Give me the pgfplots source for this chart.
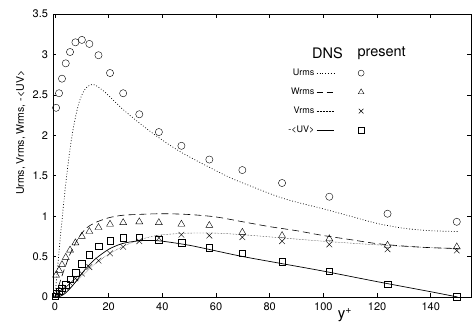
\documentclass[border=0pt]{standalone}
\usepackage{fontspec}
\setmainfont{TeX Gyre Heros}
\usepackage{pgfplots}
\pgfplotsset{compat=1.18}
\newcommand{\lf}{\fontsize{9}{10}\selectfont}
\begin{document}
\begin{tikzpicture}
\useasboundingbox (-53pt,-30pt) rectangle (422pt,297pt);
\begin{axis}[
  scale only axis, width=418pt, height=283pt,
  xmin=-0.75, xmax=155, ymin=0, ymax=3.5,
  xtick={0,20,...,140}, ytick={0,0.5,...,3.5},
  tick align=inside, major tick length=3.5pt,
  axis line style={line width=0.6pt}, tick style={black, line width=0.5pt},
  tick label style={font=\fontsize{11}{12}\selectfont},
  /pgf/number format/assume math mode=true,
  xticklabel style={yshift=-2.5pt},
  yticklabel style={xshift=-1.5pt},
  clip=false,
  every mark/.append style={line width=0.75pt, solid},
  xlabel={y\textsuperscript{+}},
  every axis x label/.style={at={(axis cs:108,0)}, anchor=north, yshift=-8pt, font=\fontsize{15}{16}\selectfont},
  ylabel={Urms, Vrms, Wrms, -<UV>},
  every axis y label/.style={at={(axis description cs:-0.077,0.58)}, rotate=90, anchor=center, font=\fontsize{10.5}{11}\selectfont},
  legend columns=2, legend plot pos=right, legend cell align=right,
  legend style={at={(axis cs:86.5,2.83)}, anchor=north west, draw=none, fill=none,
    inner sep=0pt, row sep=9.5pt,
    nodes={inner sep=1pt, text height=6.5pt, text depth=1pt},
    /tikz/every odd column/.append style={column sep=1pt},
    /tikz/every even column/.append style={column sep=21pt}},
]
% DNS Urms
\addplot[black, line width=0.7pt, dash pattern=on 0.8pt off 2pt, smooth, forget plot] coordinates {
(0,0) (1,0.37) (2,0.74) (3,1.08) (4,1.40) (5,1.68) (6,1.92) (7,2.12) (8,2.28) (9,2.41) (10,2.50) (11,2.56) (12,2.60) (13,2.62) (14,2.63) (15,2.62) (16,2.60) (18,2.55) (20,2.49) (25,2.33) (30,2.19) (35,2.06) (40,1.94) (47,1.79) (56,1.63) (65,1.48) (70,1.41) (85,1.22) (100,1.09) (110,1.00) (120,0.91) (130,0.85) (140,0.82) (150,0.81)};
% DNS Wrms
\addplot[black, line width=0.6pt, dash pattern=on 7pt off 4pt, smooth, forget plot] coordinates {
(0,0) (1,0.10) (2,0.20) (3,0.30) (4,0.39) (5,0.48) (6,0.56) (8,0.69) (10,0.79) (12,0.86) (15,0.92) (20,0.98) (25,1.01) (30,1.02) (40,1.03) (50,1.02) (60,0.99) (70,0.93) (80,0.87) (90,0.82) (100,0.76) (110,0.71) (120,0.66) (130,0.63) (140,0.61) (150,0.60)};
% DNS Vrms
\addplot[black, line width=0.4pt, dash pattern=on 0.5pt off 1pt, smooth, forget plot] coordinates {
(0,0) (2,0.02) (4,0.06) (6,0.12) (8,0.19) (10,0.26) (12,0.32) (15,0.41) (20,0.53) (25,0.62) (30,0.69) (35,0.74) (40,0.77) (50,0.79) (60,0.79) (70,0.77) (85,0.73) (100,0.69) (120,0.645) (140,0.61) (150,0.60)};
% DNS -uv
\addplot[black, line width=0.7pt, smooth, forget plot] coordinates {
(0,0) (2,0.01) (4,0.05) (6,0.12) (8,0.20) (10,0.29) (12,0.37) (15,0.47) (20,0.59) (25,0.66) (30,0.69) (35,0.70) (40,0.69) (50,0.64) (60,0.57) (70,0.50) (85,0.41) (100,0.32) (120,0.19) (140,0.065) (150,0)};
% present
\addplot[black, only marks, mark=o, mark size=3.6pt, forget plot] coordinates {
(0.4,2.34) (1.5,2.52) (2.6,2.70) (4.0,2.89) (5.6,3.03) (7.6,3.15) (10,3.18) (12.8,3.13) (16.2,2.99) (20.5,2.77) (25.4,2.52) (31.4,2.26) (38.7,2.04) (47.1,1.87) (57.5,1.70) (69.8,1.57) (84.6,1.41) (102.2,1.24) (123.9,1.03) (149.7,0.93)};
\addplot[black, only marks, mark=triangle, mark size=4pt, forget plot] coordinates {
(0.4,0.27) (1.5,0.33) (2.6,0.40) (4.0,0.49) (5.6,0.58) (7.6,0.67) (10,0.75) (12.8,0.81) (16.2,0.86) (20.5,0.90) (25.4,0.92) (31.4,0.93) (38.7,0.92) (47.1,0.90) (57.5,0.885) (69.8,0.80) (84.6,0.76) (102.2,0.72) (123.9,0.64) (149.7,0.62)};
\addplot[black, only marks, mark=x, mark size=4pt, forget plot] coordinates {
(0.4,0.03) (1.5,0.06) (2.6,0.09) (4.0,0.12) (5.6,0.17) (7.6,0.23) (10,0.29) (12.8,0.37) (16.2,0.45) (20.5,0.54) (25.4,0.62) (31.4,0.69) (38.7,0.73) (47.1,0.77) (57.5,0.76) (69.8,0.74) (84.6,0.69) (102.2,0.65) (123.9,0.59) (149.7,0.575)};
\addplot[black, only marks, mark=square, mark size=3.3pt, forget plot] coordinates {
(0,0.01) (0.4,0.04) (1.5,0.07) (2.6,0.11) (4.0,0.15) (5.6,0.22) (7.6,0.30) (10,0.41) (12.8,0.52) (16.2,0.63) (20.5,0.70) (25.4,0.73) (31.4,0.74) (38.7,0.71) (47.1,0.67) (57.5,0.61) (69.8,0.54) (84.6,0.44) (102.2,0.32) (123.9,0.16) (149.7,0.0)};
% legend
\addlegendimage{black, line width=0.7pt, dash pattern=on 0.8pt off 2pt}
\addlegendentry{\lf Urms}
\addlegendimage{black, only marks, mark=o, mark size=3pt}
\addlegendentry{\mbox{}}
\addlegendimage{black, line width=0.6pt, dash pattern=on 6pt off 4pt}
\addlegendentry{\lf Wrms}
\addlegendimage{black, only marks, mark=triangle, mark size=3.3pt}
\addlegendentry{\mbox{}}
\addlegendimage{black, line width=0.4pt, dash pattern=on 0.5pt off 1pt}
\addlegendentry{\lf Vrms}
\addlegendimage{black, only marks, mark=x, mark size=3.2pt}
\addlegendentry{\mbox{}}
\addlegendimage{black, line width=0.7pt}
\addlegendentry{\lf -<UV>}
\addlegendimage{black, only marks, mark=square, mark size=2.8pt}
\addlegendentry{\mbox{}}
\node[font=\fontsize{14.5}{15}\selectfont] at (axis cs:101.5,3.02) {DNS};
\node[font=\fontsize{14.5}{15}\selectfont] at (axis cs:121.7,3.02) {present};
\end{axis}
\end{tikzpicture}
\end{document}
